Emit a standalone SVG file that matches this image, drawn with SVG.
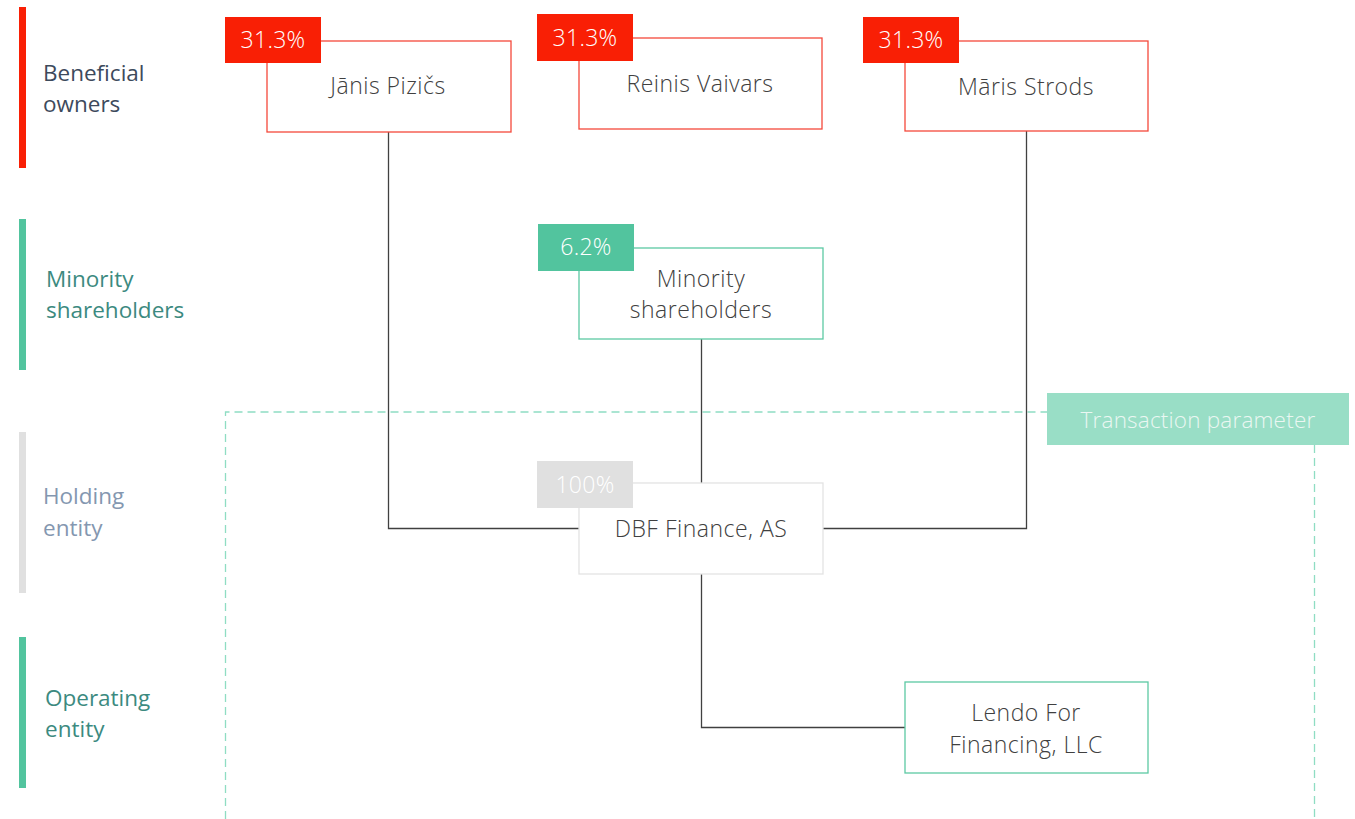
<svg xmlns="http://www.w3.org/2000/svg" width="1355" height="819" viewBox="0 0 1355 819">
<style>
.bg{fill:#ffffff}
.node{fill:#ffffff;stroke-width:1.3}
.red{stroke:#F4493B}
.grn{stroke:#5CC9A4}
.gry{stroke:#E3E3E3}
.ntext{font-family:"Open Sans","Liberation Sans",sans-serif;font-weight:300;font-size:23px;letter-spacing:0.5px;fill:#404040;text-anchor:middle}
.tag{font-family:"Open Sans","Liberation Sans",sans-serif;font-weight:300;font-size:23px;letter-spacing:0.3px;fill:#ffffff;text-anchor:middle}
.lbl{font-family:"Open Sans","Liberation Sans",sans-serif;font-weight:400;font-size:22.5px}
.conn{fill:none;stroke:#404040;stroke-width:1.3}
.dash{fill:none;stroke:#8FDDC3;stroke-width:1.3;stroke-dasharray:8 5}
</style>
<rect class="bg" x="0" y="0" width="1355" height="819"/>

<g id="legend">
  <rect x="19" y="7" width="7" height="161" fill="#F91F05"/>
  <text class="lbl" x="43" y="81" fill="#3D4A5C">Beneficial</text>
  <text class="lbl" x="43" y="112" fill="#3D4A5C">owners</text>
  <rect x="19" y="219" width="7" height="151" fill="#52C49E"/>
  <text class="lbl" x="46" y="287" fill="#3C8A80">Minority</text>
  <text class="lbl" x="46" y="318" fill="#3C8A80">shareholders</text>
  <rect x="19" y="432" width="7" height="161" fill="#E0E0E0"/>
  <text class="lbl" x="43" y="504" fill="#8497B0">Holding</text>
  <text class="lbl" x="43" y="536" fill="#8497B0">entity</text>
  <rect x="19" y="637" width="7" height="151" fill="#52C49E"/>
  <text class="lbl" x="45" y="706" fill="#3C8A80">Operating</text>
  <text class="lbl" x="45" y="737" fill="#3C8A80">entity</text>
</g>

<g id="transaction-parameter">
  <path class="dash" d="M225.5,819 V412 H1047"/>
  <path class="dash" d="M1314.5,445 V819"/>
  <rect x="1047" y="393" width="302" height="52" fill="#99DEC6"/>
  <text x="1198" y="428" font-family="'Open Sans','Liberation Sans',sans-serif" font-weight="300" font-size="22.5" letter-spacing="0.2" fill="#EAF7F2" text-anchor="middle">Transaction parameter</text>
</g>

<g id="connectors">
  <path class="conn" d="M388.5,132 V528.5 H580"/>
  <path class="conn" d="M1026.5,131 V528.5 H823"/>
  <path class="conn" d="M701.5,339 V483"/>
  <path class="conn" d="M701.5,574 V727.5 H905"/>
</g>

<g id="janis">
  <rect class="node red" x="267" y="41" width="244" height="91"/>
  <rect x="225" y="17" width="96" height="46" fill="#F91F05"/>
  <text class="tag" x="273" y="48">31.3%</text>
  <text class="ntext" x="388" y="94">Jānis Pizičs</text>
</g>

<g id="reinis">
  <rect class="node red" x="579" y="38" width="243" height="91"/>
  <rect x="537" y="14" width="96" height="47" fill="#F91F05"/>
  <text class="tag" x="585" y="46">31.3%</text>
  <text class="ntext" x="700" y="92">Reinis Vaivars</text>
</g>

<g id="maris">
  <rect class="node red" x="905" y="41" width="243" height="90"/>
  <rect x="863" y="17" width="96" height="46" fill="#F91F05"/>
  <text class="tag" x="911" y="48">31.3%</text>
  <text class="ntext" x="1026" y="95">Māris Strods</text>
</g>

<g id="minority">
  <rect class="node grn" x="579" y="248" width="244" height="91"/>
  <rect x="538" y="224" width="96" height="47" fill="#52C49E"/>
  <text class="tag" x="586" y="255">6.2%</text>
  <text class="ntext" x="701" y="287">Minority</text>
  <text class="ntext" x="701" y="318">shareholders</text>
</g>

<g id="dbf">
  <rect class="node gry" x="579" y="483" width="244" height="91"/>
  <rect x="537" y="461" width="96" height="47" fill="#E0E0E0"/>
  <text class="tag" x="585" y="493" fill="#F4F4F4">100%</text>
  <text class="ntext" x="701" y="537">DBF Finance, AS</text>
</g>

<g id="lendo">
  <rect class="node grn" x="905" y="682" width="243" height="91"/>
  <text class="ntext" x="1026" y="721">Lendo For</text>
  <text class="ntext" x="1026" y="753">Financing, LLC</text>
</g>
</svg>
